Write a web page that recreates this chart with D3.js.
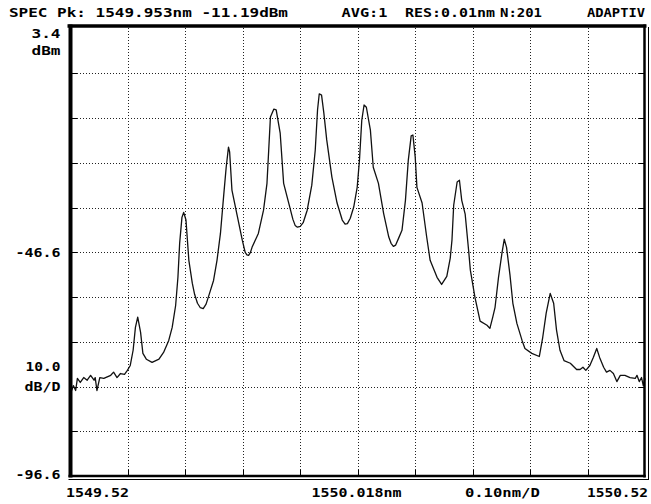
<!DOCTYPE html>
<html>
<head>
<meta charset="utf-8">
<script src="https://cdn.jsdelivr.net/npm/d3@7"></script>
<style>
  body { margin: 0; background: #fff; }
  text { font-family: "DejaVu Sans Mono", "Liberation Mono", monospace; font-weight: bold; font-size: 13px; fill: #000; }
</style>
</head>
<body>
<svg id="chart" width="651" height="504"></svg>
<script>
// Optical spectrum trace: wavelength (nm) and level (dBm)
const wavelengths = [
  1549.522, 1549.525, 1549.529, 1549.532, 1549.537, 1549.543, 1549.549, 1549.555, 1549.561, 1549.563,
  1549.566, 1549.571, 1549.578, 1549.590, 1549.595, 1549.601, 1549.607, 1549.614, 1549.619, 1549.624,
  1549.629, 1549.633, 1549.637, 1549.642, 1549.646, 1549.652, 1549.662, 1549.674, 1549.682, 1549.691,
  1549.697, 1549.703, 1549.707, 1549.710, 1549.714, 1549.717, 1549.721, 1549.726, 1549.732, 1549.736,
  1549.741, 1549.746, 1549.751, 1549.756, 1549.762, 1549.769, 1549.775, 1549.781, 1549.787, 1549.791,
  1549.795, 1549.797, 1549.801, 1549.810, 1549.819, 1549.824, 1549.827, 1549.830, 1549.833, 1549.836,
  1549.847, 1549.856, 1549.862, 1549.865, 1549.868, 1549.874, 1549.878, 1549.885, 1549.891, 1549.903,
  1549.907, 1549.911, 1549.915, 1549.920, 1549.925, 1549.932, 1549.940, 1549.946, 1549.950, 1549.953,
  1549.957, 1549.961, 1549.966, 1549.975, 1549.984, 1549.993, 1549.998, 1550.002, 1550.007, 1550.013,
  1550.019, 1550.023, 1550.027, 1550.031, 1550.035, 1550.042, 1550.047, 1550.056, 1550.065, 1550.074,
  1550.078, 1550.082, 1550.086, 1550.091, 1550.097, 1550.103, 1550.108, 1550.113, 1550.116, 1550.120,
  1550.123, 1550.132, 1550.140, 1550.146, 1550.158, 1550.166, 1550.175, 1550.181, 1550.184, 1550.187,
  1550.193, 1550.197, 1550.201, 1550.207, 1550.213, 1550.216, 1550.224, 1550.233, 1550.245, 1550.250,
  1550.255, 1550.259, 1550.265, 1550.271, 1550.275, 1550.279, 1550.285, 1550.290, 1550.297, 1550.306,
  1550.311, 1550.323, 1550.336, 1550.342, 1550.348, 1550.355, 1550.361, 1550.366, 1550.372, 1550.379,
  1550.390, 1550.401, 1550.407, 1550.412, 1550.417, 1550.424, 1550.430, 1550.436, 1550.441, 1550.448,
  1550.453, 1550.459, 1550.465, 1550.471, 1550.477, 1550.485, 1550.494, 1550.503, 1550.506, 1550.510,
  1550.514, 1550.517, 1550.520
];
const levels = [
  -77.5, -76.4, -77.5, -74.8, -75.7, -74.6, -75.2, -74.1, -75.2, -74.6,
  -77.5, -74.6, -74.8, -74.1, -73.4, -74.6, -73.7, -73.9, -73.0, -71.9,
  -68.5, -63.4, -61.1, -64.5, -69.2, -70.5, -71.2, -70.5, -69.0, -66.3,
  -63.4, -58.5, -52.2, -44.6, -38.8, -37.7, -39.4, -48.4, -53.5, -56.0,
  -58.0, -59.0, -59.2, -58.2, -55.8, -52.9, -48.4, -42.4, -33.4, -27.6,
  -23.1, -24.2, -32.7, -38.3, -43.9, -46.6, -47.2, -47.3, -46.7, -45.5,
  -42.4, -37.2, -31.2, -23.8, -16.4, -14.6, -14.8, -20.0, -31.2, -37.2,
  -39.2, -40.6, -41.0, -40.8, -40.0, -37.2, -31.6, -23.8, -14.8, -11.19,
  -11.5, -15.5, -21.5, -29.8, -35.6, -39.4, -40.3, -40.2, -39.0, -36.5,
  -32.1, -26.0, -17.1, -13.7, -14.2, -19.3, -27.6, -31.2, -37.9, -43.2,
  -44.6, -45.3, -45.0, -43.5, -41.7, -35.0, -26.0, -20.6, -20.4, -25.3,
  -32.1, -35.6, -43.2, -48.4, -52.2, -53.8, -52.0, -47.9, -43.9, -36.1,
  -30.9, -30.5, -35.0, -38.1, -46.2, -50.6, -56.7, -62.0, -62.9, -63.6,
  -61.1, -58.9, -52.2, -46.8, -43.7, -45.5, -51.7, -58.0, -62.5, -66.3,
  -68.1, -69.2, -69.9, -65.6, -60.2, -55.8, -58.0, -64.0, -68.5, -70.8,
  -71.4, -72.8, -72.8, -72.3, -73.0, -71.9, -70.1, -68.1, -70.1, -72.3,
  -73.4, -73.0, -73.7, -75.5, -74.1, -74.1, -74.6, -74.8, -74.1, -75.5,
  -74.6, -76.4, -74.8
];

// Axis settings
const xStart = 1549.52, xStop = 1550.52, xDivision = 0.10;
const yTop = 3.4, yDivision = 10.0, divisions = 10;
const xTicks = d3.range(divisions + 1).map(i => +(xStart + i * xDivision).toFixed(3));
const yTicks = d3.range(divisions + 1).map(i => +(yTop - i * yDivision).toFixed(1));

// Instrument status line
const headerTexts = ["SPEC  Pk: 1549.953nm -11.19dBm", "AVG:1", "RES:0.01nm", "N:201", "ADAPTIV"];
// Level axis labels
const levelLabels = ["3.4", "dBm", "-46.6", "10.0", "dB/D", "-96.6"];
// Wavelength axis labels
const wavelengthLabels = ["1549.52", "1550.018nm", "0.10nm/D", "1550.52"];

const svg = d3.select("#chart");
const plotLeft = 70.5, plotRight = 645, plotTop = 28.5, plotBottom = 476;

const x = d3.scaleLinear().domain([xStart, xStop]).range([plotLeft, plotRight]);
const y = d3.scaleLinear().domain([yTop - divisions * yDivision, yTop]).range([plotBottom, plotTop]);

// Dotted graticule
const grid = svg.append("g").attr("class", "grid");
grid.append("g")
  .attr("transform", `translate(0,${plotBottom})`)
  .call(d3.axisBottom(x).tickValues(xTicks.slice(1, -1)).tickSize(-(plotBottom - plotTop + 3)).tickFormat(""))
  .call(g => g.select(".domain").remove());
grid.append("g")
  .attr("transform", `translate(${plotLeft},0)`)
  .call(d3.axisLeft(y).tickValues(yTicks.slice(1, -1)).tickSize(-(plotRight - plotLeft)).tickFormat(""))
  .call(g => g.select(".domain").remove());
grid.selectAll("line")
  .attr("stroke", "#222").attr("stroke-width", 1).attr("stroke-dasharray", "1,2")
  .attr("shape-rendering", "crispEdges");

// Solid division ticks along the frame
const ticks = svg.append("g");
ticks.append("g").attr("transform", `translate(0,${plotBottom})`)
  .call(d3.axisTop(x).tickValues(xTicks.slice(1, -1)).tickSize(6).tickFormat(""));
ticks.append("g").attr("transform", `translate(${plotLeft},0)`)
  .call(d3.axisRight(y).tickValues(yTicks.slice(1, -1)).tickSize(6).tickFormat(""));
ticks.append("g").attr("transform", `translate(${plotRight},0)`)
  .call(d3.axisLeft(y).tickValues(yTicks.slice(1, -1)).tickSize(6).tickFormat(""));
ticks.selectAll(".domain").remove();
ticks.selectAll("line").attr("stroke", "#000").attr("stroke-width", 1).attr("shape-rendering", "crispEdges");

// Spectrum trace
const trace = wavelengths.map((w, i) => ({ w, v: levels[i] }));
svg.append("path")
  .datum(trace)
  .attr("fill", "none")
  .attr("stroke", "#111")
  .attr("stroke-width", 1.3)
  .attr("stroke-linejoin", "round")
  .attr("d", d3.line().x(d => x(d.w)).y(d => y(d.v)));

// Screen frame
const frameTop = plotTop - 2.5;
const frame = svg.append("g").attr("stroke", "#000").attr("fill", "none");
frame.append("line").attr("x1", plotLeft - 3).attr("x2", plotRight + 1.5).attr("y1", frameTop).attr("y2", frameTop).attr("stroke-width", 3.5);
frame.append("line").attr("x1", plotLeft).attr("x2", plotLeft).attr("y1", frameTop - 1.5).attr("y2", plotBottom + 1.5).attr("stroke-width", 4);
frame.append("line").attr("x1", plotRight - 0.5).attr("x2", plotRight - 0.5).attr("y1", frameTop - 1.5).attr("y2", plotBottom + 1.5).attr("stroke-width", 2.5);
frame.append("line").attr("x1", plotLeft - 2).attr("x2", plotRight + 0.75).attr("y1", plotBottom).attr("y2", plotBottom).attr("stroke-width", 2.5);
frame.append("line").attr("x1", plotRight + 3.5).attr("x2", plotRight + 3.5).attr("y1", frameTop + 1).attr("y2", plotBottom + 4).attr("stroke-width", 1);
frame.append("line").attr("x1", plotLeft - 2).attr("x2", plotRight + 4).attr("y1", plotBottom + 3.5).attr("y2", plotBottom + 3.5).attr("stroke-width", 1);

// Text helper: fixed-width screen font stretched to its slot
function put(str, px, py, width, anchor) {
  svg.append("text")
    .attr("x", px).attr("y", py)
    .attr("text-anchor", anchor || "start")
    .attr("textLength", width)
    .attr("lengthAdjust", "spacingAndGlyphs")
    .text(str);
}

// Status line
const headerBase = 17;
put(headerTexts[0], 9, headerBase, 279);
put(headerTexts[1], 341.5, headerBase, 46);
put(headerTexts[2], 405, headerBase, 90);
put(headerTexts[3], 500, headerBase, 42);
put(headerTexts[4], 587, headerBase, 58);

// Level axis labels (top, centre, bottom of scale; scale per division)
const labelRight = 60.5;
put(levelLabels[0], labelRight, y(yTicks[0]) + 9, 29, "end");
put(levelLabels[1], labelRight, y(yTicks[0]) + 26.5, 29, "end");
put(levelLabels[2], labelRight, y(yTicks[5]) + 5, 45, "end");
put(levelLabels[3], labelRight, y(yTicks[7]) + 29.5, 35, "end");
put(levelLabels[4], labelRight, y(yTicks[7]) + 49.5, 36, "end");
put(levelLabels[5], labelRight, y(yTicks[10]) + 2.5, 45, "end");

// Wavelength axis labels
const labelBase = 496.5;
put(wavelengthLabels[0], x(xStart) - 4.5, labelBase, 63);
put(wavelengthLabels[1], x(1550.018), labelBase, 90, "middle");
put(wavelengthLabels[2], x(xStart + 0.75 * (xStop - xStart)) + 1, labelBase, 75, "middle");
put(wavelengthLabels[3], x(xStop) + 3, labelBase, 61, "end");
</script>
</body>
</html>
